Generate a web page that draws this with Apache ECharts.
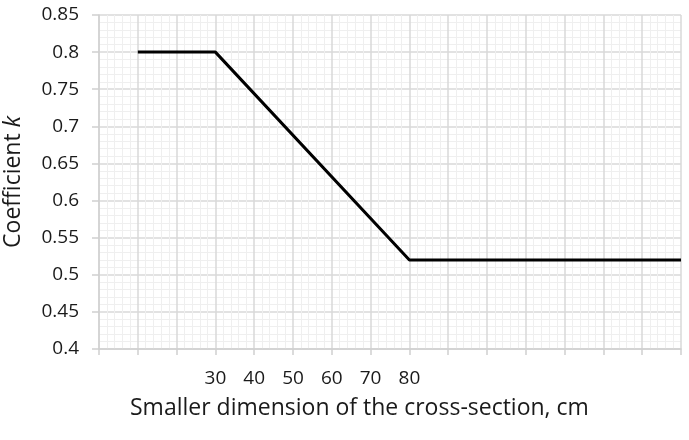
<!DOCTYPE html>
<html>
<head>
<meta charset="utf-8">
<script src="https://cdn.jsdelivr.net/npm/echarts@6/dist/echarts.min.js"></script>
<style>
html,body{margin:0;padding:0;background:#fff;}
#c{width:689px;height:440px;}
</style>
</head>
<body>
<div id="c"></div>
<script>
// Data
var xValues = [10, 30, 80, 150];
var kValues = [0.8, 0.8, 0.52, 0.52];
var xTickLabels = [30, 40, 50, 60, 70, 80];
var xAxisTitle = 'Smaller dimension of the cross-section, cm';
var yAxisTitle = 'Coefficient';
var yAxisTitleItalic = 'k';

var FONT = '"Open Sans", "Liberation Sans", sans-serif';
var chart = echarts.init(document.getElementById('c'), null, {renderer: 'canvas'});
var points = xValues.map(function (x, i) { return [x, kValues[i]]; });

chart.setOption({
  animation: false,
  backgroundColor: '#fff',
  grid: {left: 99, right: 8, top: 15, bottom: 91, containLabel: false, outerBoundsMode: 'none'},
  xAxis: {
    type: 'value', min: 0, max: 150, interval: 10,
    axisLine: {show: true, lineStyle: {color: '#d0d0d0', width: 1.5}},
    axisTick: {show: true, length: 6, lineStyle: {color: '#d0d0d0', width: 1.5}},
    axisLabel: {
      margin: 20, fontSize: 19, fontFamily: FONT, color: '#1a1a1a',
      formatter: function (v) { return xTickLabels.indexOf(Math.round(v)) >= 0 ? String(Math.round(v)) : ''; }
    },
    splitLine: {show: true, lineStyle: {color: '#d9d9d9', width: 1.5}},
    minorTick: {show: false, splitNumber: 5},
    minorSplitLine: {show: true, lineStyle: {color: '#efefef', width: 1}}
  },
  yAxis: {
    type: 'value', min: 0.4, max: 0.85, interval: 0.05,
    name: '{n|' + yAxisTitle + ' }{i|' + yAxisTitleItalic + '}',
    nameLocation: 'middle', nameGap: 74, nameRotate: 90,
    nameTextStyle: {
      rich: {
        n: {fontSize: 23, fontFamily: FONT, color: '#1a1a1a'},
        i: {fontSize: 23, fontFamily: FONT, fontStyle: 'italic', color: '#1a1a1a'}
      }
    },
    axisLine: {show: true, lineStyle: {color: '#d0d0d0', width: 1.5}},
    axisTick: {show: true, length: 7, lineStyle: {color: '#d0d0d0', width: 1.5}},
    axisLabel: {
      margin: 20, fontSize: 19, fontFamily: FONT, color: '#1a1a1a',
      formatter: function (v) { return String(Math.round(v * 100) / 100); }
    },
    splitLine: {show: true, lineStyle: {color: '#d9d9d9', width: 1.5}},
    minorTick: {show: false, splitNumber: 5},
    minorSplitLine: {show: true, lineStyle: {color: '#efefef', width: 1}}
  },
  graphic: [{
    type: 'text', left: 130, top: 397,
    style: {text: xAxisTitle, fontSize: 23, fontFamily: FONT, fill: '#1a1a1a'}
  }],
  series: [{
    type: 'line', data: points, symbol: 'none',
    lineStyle: {color: '#000', width: 3}
  }]
});
</script>
</body>
</html>
